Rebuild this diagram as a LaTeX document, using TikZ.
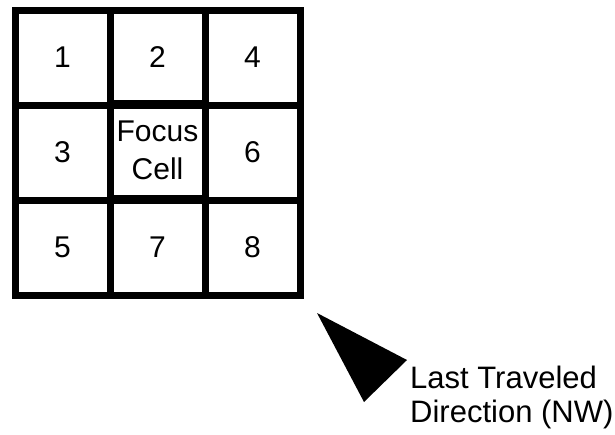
\documentclass[tikz,border=0pt]{standalone}
\usepackage{fontspec}
\setmainfont{Liberation Sans}
\begin{document}
\begin{tikzpicture}[x=1pt,y=-1pt,
  cellbox/.style={draw=black,line width=7pt,minimum width=95pt,minimum height=95pt,inner sep=0pt,outer sep=0pt,font=\fontsize{30}{30}\selectfont},
  lbl/.style={anchor=base west,inner sep=0pt,font=\fontsize{31}{34}\selectfont}]
\useasboundingbox (0,0) rectangle (615,434);
\node[cellbox] (c1) at (62.5,57.5) {1};
\node[cellbox] (c2) at (157.5,57.5) {2};
\node[cellbox] (c4) at (252.5,57.5) {4};
\node[cellbox] (c3) at (62.5,152.5) {3};
\node[cellbox,align=center,font=\fontsize{30}{38}\selectfont] (fc) at (157.5,150.5) {Focus\\Cell};
\node[cellbox] (c6) at (252.5,152.5) {6};
\node[cellbox] (c5) at (62.5,247.5) {5};
\node[cellbox] (c7) at (157.5,247.5) {7};
\node[cellbox] (c8) at (252.5,247.5) {8};
\fill[black] (317,313) -- (407,360) -- (364,402) -- cycle;
\node[lbl] (l1) at (410,388) {Last Traveled};
\node[lbl] (l2) at (410,422) {Direction (NW)};
\end{tikzpicture}
\end{document}
